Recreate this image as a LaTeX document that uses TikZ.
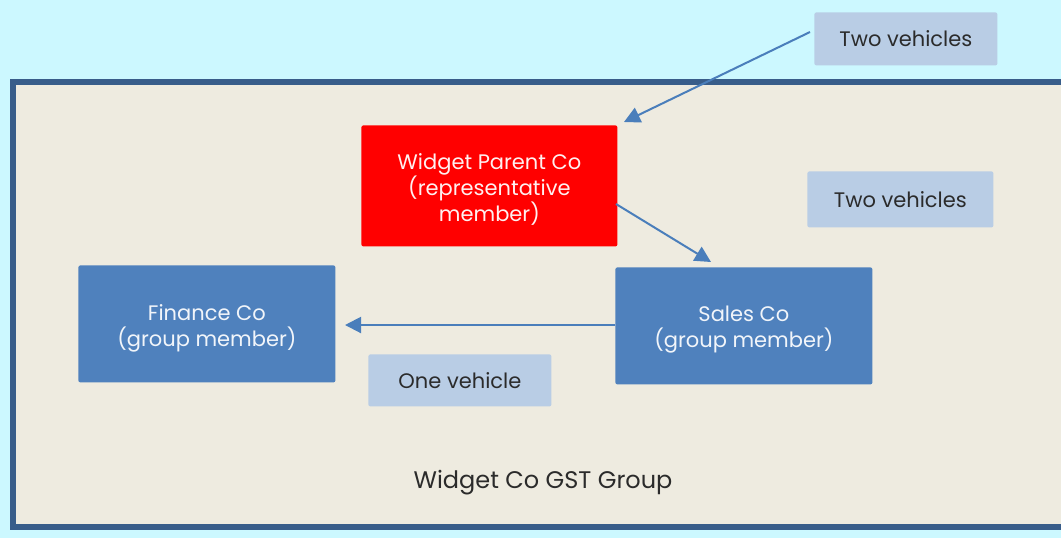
\documentclass[tikz,border=0pt]{standalone}
\usepackage{fontspec}
\setmainfont{Poppins}
\usetikzlibrary{arrows.meta}
\definecolor{sky}{HTML}{CCF8FF}
\definecolor{paper}{HTML}{EEEBE0}
\definecolor{frame}{HTML}{385D8A}
\definecolor{member}{HTML}{4F81BD}
\definecolor{note}{HTML}{B9CDE5}
\definecolor{link}{HTML}{4A7EBB}
\definecolor{ink}{HTML}{2B2B2B}
\tikzset{
  x=0.5pt, y=-0.5pt,
  box/.style={anchor=north west, inner sep=0pt, rounded corners=1pt},
  boxtext/.style={align=center, font=\fontsize{10.5}{13}\selectfont,
    inner sep=0pt, yshift=-2pt, text=#1},
  memberbox/.style={box, fill=member},
  parentbox/.style={box, fill=red},
  notebox/.style={box, fill=note, text=ink, font=\fontsize{10.5}{13}\selectfont},
  link/.style={draw=link, line width=1pt,
    -{Triangle[length=8pt, width=8pt]}},
}
\begin{document}
\begin{tikzpicture}
% page and group frame
\fill[sky] (0,0) rectangle (1061,538);
\useasboundingbox (0,0) rectangle (1061,538);
\draw[frame, fill=paper, line width=3pt] (13,82) rectangle (1075,527);

% entities
\node[parentbox, minimum width=128pt, minimum height=60.5pt,
  label={[boxtext=white!94!red]center:Widget Parent Co\\(representative\\member)}]
  (parent) at (361,125) {};
\node[memberbox, minimum width=128.5pt, minimum height=58.5pt,
  label={[boxtext=white!92!member]center:Finance Co\\(group member)}]
  (finance) at (78,265) {};
\node[memberbox, minimum width=128.5pt, minimum height=58.5pt,
  label={[boxtext=white!92!member]center:Sales Co\\(group member)}]
  (sales) at (615,267) {};

% vehicle notes
\node[notebox, minimum width=91.5pt, minimum height=26.5pt] (twoA) at (814,12) {Two vehicles};
\node[notebox, minimum width=93pt, minimum height=28pt] (twoB) at (807,171) {Two vehicles};
\node[notebox, minimum width=91.5pt, minimum height=26pt] (one) at (368,354) {One vehicle};

% group label
\node[font=\fontsize{12}{14}\selectfont, text=ink] (group) at (543,483) {Widget Co GST Group};

% arrows
\coordinate (a1) at (810,32);
\coordinate (a2) at (624,122);
\coordinate (b1) at (616,204);
\coordinate (b2) at (711,262);
\coordinate (c2) at (345,325);
\draw[link] (a1) -- (a2);
\draw[link] (b1) -- (b2);
\draw[link] (sales.west |- c2) -- (c2);
\end{tikzpicture}
\end{document}
